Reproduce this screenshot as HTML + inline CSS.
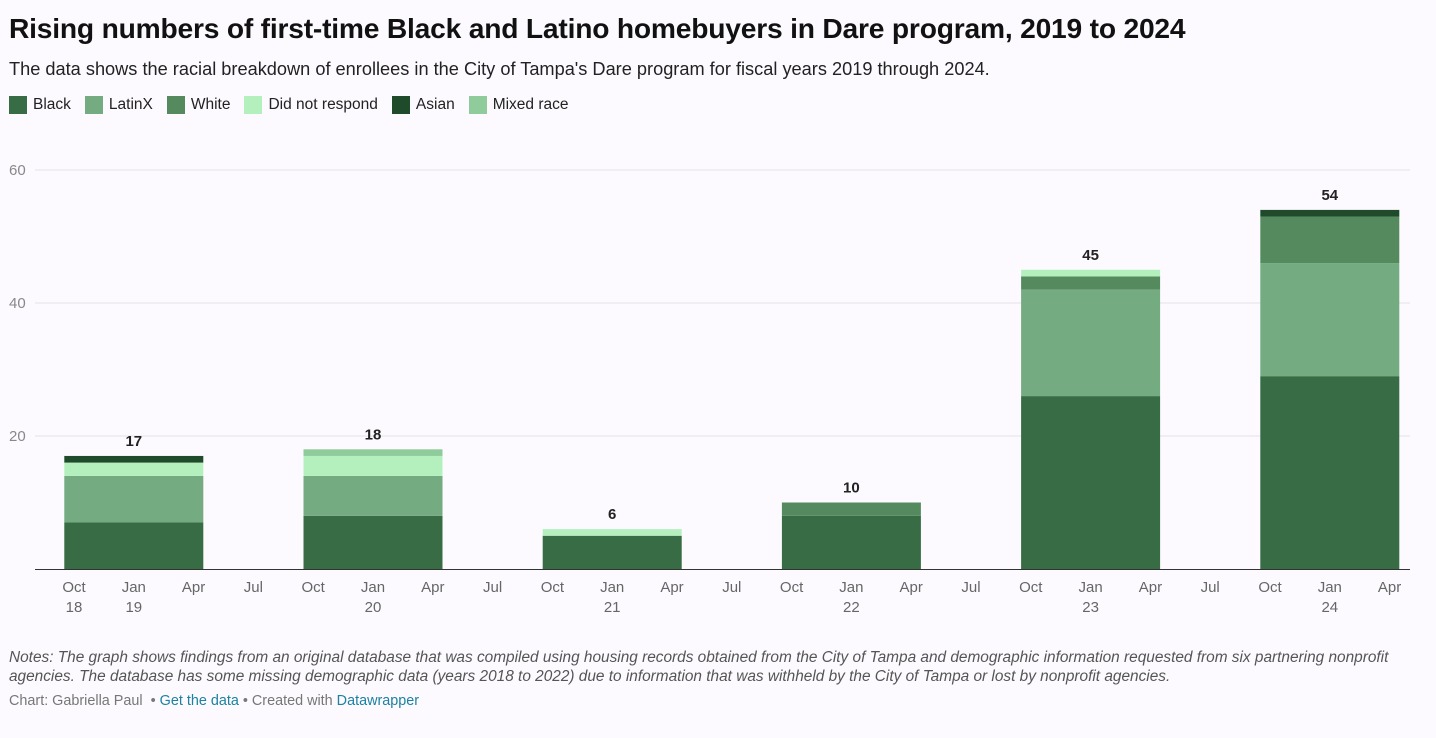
<!DOCTYPE html>
<html><head><meta charset="utf-8">
<style>
body{margin:0;background:#fcfaff;font-family:"Liberation Sans",Arial,sans-serif;width:1436px;height:738px;overflow:hidden;position:relative}
h1{position:absolute;left:9px;top:12px;margin:0;font-size:28.2px;font-weight:700;color:#111;letter-spacing:-0.2px;white-space:nowrap}
.sub{position:absolute;left:9px;top:59px;font-size:18.2px;color:#222;white-space:nowrap}
.legend{position:absolute;left:9px;top:96px;font-size:15.5px;color:#222;display:flex;gap:14px}
.legend span{display:flex;align-items:center}
.legend i{display:inline-block;width:18px;height:18px;margin-right:6px}
.notes{position:absolute;left:9px;top:648px;width:1425px;font-size:15.4px;font-style:italic;color:#555;line-height:19px}
.credit{position:absolute;left:9px;top:693px;font-size:14.4px;color:#777}
.credit a{color:#1d81a2;text-decoration:none}
svg{position:absolute;left:0;top:0}
</style></head><body>
<h1>Rising numbers of first-time Black and Latino homebuyers in Dare program, 2019 to 2024</h1>
<div class="sub">The data shows the racial breakdown of enrollees in the City of Tampa's Dare program for fiscal years 2019 through 2024.</div>
<div class="legend" id="legend"></div>
<svg id="chart" width="1436" height="738"></svg>
<div class="notes">Notes: The graph shows findings from an original database that was compiled using housing records obtained from the City of Tampa and demographic information requested from six partnering nonprofit agencies. The database has some missing demographic data (years 2018 to 2022) due to information that was withheld by the City of Tampa or lost by nonprofit agencies.</div>
<div class="credit">Chart: Gabriella Paul &nbsp;• <a href="#">Get the data</a> • Created with <a href="#">Datawrapper</a></div>
<script>
const years=["2019","2020","2021","2022","2023","2024"];
const seriesNames=["Black","LatinX","White","Did not respond","Asian","Mixed race"];
const black=[7,8,5,8,26,29];
const latinx=[7,6,0,0,16,17];
const white=[0,0,0,2,2,7];
const dnr=[2,3,1,0,1,0];
const asian=[1,0,0,0,0,1];
const mixed=[0,1,0,0,0,0];
const yTicks=[20,40,60];
const qLabels=["Oct","Jan","Apr","Jul"];
const colors=["#386c45","#74ab80","#558a5f","#b4f0bd","#1f4b2a","#8fcb9b"];
const ns="http://www.w3.org/2000/svg";
const svg=document.getElementById('chart');
const y=v=>569-v*(399/60);
const xq=q=>74+q*59.8;
function el(t,a){const e=document.createElementNS(ns,t);for(const k in a)e.setAttribute(k,a[k]);svg.appendChild(e);return e;}
const lg=document.getElementById('legend');
seriesNames.forEach((n,i)=>{const s=document.createElement('span');


s.innerHTML='<i style="background:'+colors[i]+'"></i>'+n;lg.appendChild(s);});
yTicks.forEach(t=>{const l=el('line',{x1:35,x2:1410,y1:y(t),y2:y(t),stroke:'#e3e3e8'});


const tx=el('text',{x:9,y:y(t)+5,'font-size':15,fill:'#888'});tx.textContent=t;

});
const all=[black,latinx,white,dnr,asian,mixed];
years.forEach((yr,i)=>{const cx=xq(1+4*i);let base=0;
all.forEach((s,k)=>{const v=s[i];if(!v)return;
const r=el('rect',{x:cx-69.5,width:139,y:y(base+v),height:y(base)-y(base+v),fill:colors[k]});


base+=v;});
const t=el('text',{x:cx,y:y(base)-10,'text-anchor':'middle','font-size':15,'font-weight':700,fill:'#222'});t.textContent=base;

});
const ax=el('line',{x1:35,x2:1410,y1:569.5,y2:569.5,stroke:'#333','stroke-width':1});


for(let q=0;q<=22;q++){const x=xq(q);const lab=qLabels[q%4];
const t=el('text',{x:x,y:592,'text-anchor':'middle','font-size':15,fill:'#666'});t.textContent=lab;


if(q===0||q%4===1){const yy=q===0?18:(19+(q-1)/4);
const t2=el('text',{x:x,y:612,'text-anchor':'middle','font-size':15,fill:'#666'});t2.textContent=yy;

}}
</script>
</body></html>
